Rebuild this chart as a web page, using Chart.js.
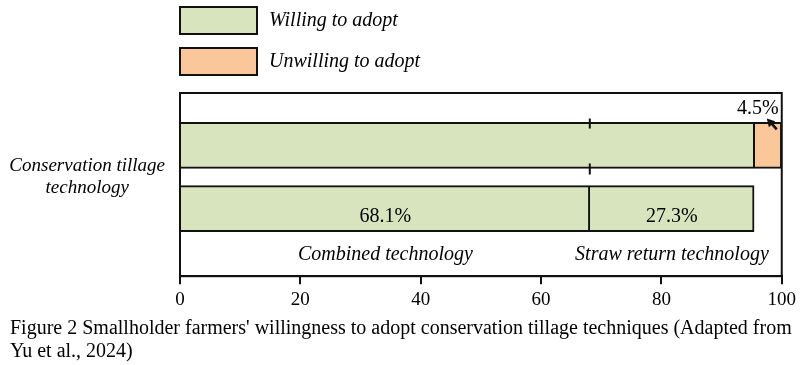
<!DOCTYPE html>
<html>
<head>
<meta charset="utf-8">
<script src="https://cdn.jsdelivr.net/npm/chart.js@4.4.1/dist/chart.umd.min.js"></script>
<style>
  html, body { margin: 0; padding: 0; background: #ffffff; }
  #wrap { width: 800px; height: 365px; }
</style>
</head>
<body>
<div id="wrap"><canvas id="c" width="800" height="365"></canvas></div>
<script>
// ---------- data ----------
const groupLabel = ['Conservation tillage', 'technology'];
const adoptionLabels = ['Willing to adopt', 'Unwilling to adopt'];
const adoptionValues = [95.5, 4.5];
const techLabels = ['Combined technology', 'Straw return technology'];
const techValues = [68.1, 27.3];
const xTickValues = [0, 20, 40, 60, 80, 100];
const titleLines = [
  "Figure 2 Smallholder farmers' willingness to adopt conservation tillage techniques (Adapted from",
  "Yu et al., 2024)"
];

// ---------- styles ----------
const FONT = '"Liberation Serif", "Times New Roman", serif';
const GREEN = '#d7e4bd';
const ORANGE = '#f9c79a';
const INK = '#111111';

const datasets = [
  { label: adoptionLabels[0], data: [{ x: adoptionValues[0], y: 0 }], backgroundColor: GREEN, legend: true },
  { label: adoptionLabels[1], data: [{ x: adoptionValues[1], y: 0 }], backgroundColor: ORANGE, legend: true, note: true },
  { label: techLabels[0], data: [{ x: techValues[0], y: 1 }], backgroundColor: GREEN, tech: true },
  { label: techLabels[1], data: [{ x: techValues[1], y: 1 }], backgroundColor: GREEN, tech: true }
].map(d => Object.assign(d, {
  stack: 's', grouped: false, borderColor: INK, borderWidth: 2, barThickness: 46
}));

// custom legend, stacked vertically above the plot
const legendPlugin = {
  id: 'vlegend',
  afterDraw(chart) {
    const ctx = chart.ctx;
    ctx.save();
    let y = 7;
    chart.data.datasets.filter(d => d.legend).forEach(d => {
      ctx.fillStyle = d.backgroundColor;
      ctx.fillRect(180, y, 77, 27);
      ctx.lineWidth = 2;
      ctx.strokeStyle = INK;
      ctx.strokeRect(180, y, 77, 27);
      ctx.fillStyle = '#000';
      ctx.font = 'italic 20px ' + FONT;
      ctx.textAlign = 'left';
      ctx.textBaseline = 'middle';
      ctx.fillText(d.label, 269, y + 14);
      y += 41;
    });
    ctx.restore();
  }
};

// frame, split marks, value labels and annotations
const annotPlugin = {
  id: 'annot',
  afterDatasetsDraw(chart) {
    const ctx = chart.ctx;
    const a = chart.chartArea;
    ctx.save();
    ctx.strokeStyle = INK;
    ctx.lineWidth = 2;
    ctx.strokeRect(a.left, a.top, a.right - a.left, a.bottom - a.top);

    const ds = chart.data.datasets;
    const topBar = chart.getDatasetMeta(0).data[0].getProps(['x', 'y', 'base', 'height'], true);
    // marks on the top bar at the split of the technology bar
    const firstTech = ds.findIndex(d => d.tech);
    const split = chart.getDatasetMeta(firstTech).data[0].getProps(['x'], true).x;
    const tTop = topBar.y - topBar.height / 2;
    const tBot = topBar.y + topBar.height / 2;
    ctx.beginPath();
    ctx.moveTo(split, tTop - 4); ctx.lineTo(split, tTop + 6);
    ctx.moveTo(split, tBot - 5); ctx.lineTo(split, tBot + 6);
    ctx.stroke();

    ctx.fillStyle = '#000';
    ctx.textAlign = 'center';
    ctx.textBaseline = 'middle';
    ds.forEach((d, i) => {
      if (!d.tech) return;
      const el = chart.getDatasetMeta(i).data[0].getProps(['x', 'y', 'base', 'height'], true);
      const cx = (el.x + el.base) / 2;
      ctx.font = '20px ' + FONT;
      ctx.fillText(d.data[0].x.toFixed(1) + '%', cx, el.y + 8);
      ctx.font = 'italic 20px ' + FONT;
      ctx.fillText(d.label, cx, el.y + el.height / 2 + 23);
    });

    // note for the small segment
    ds.forEach((d, i) => {
      if (!d.note) return;
      const el = chart.getDatasetMeta(i).data[0].getProps(['x', 'y', 'base', 'height'], true);
      const top = el.y - el.height / 2;
      ctx.font = '20px ' + FONT;
      ctx.textAlign = 'right';
      ctx.fillStyle = '#000';
      ctx.fillText(d.data[0].x.toFixed(1) + '%', el.x - 3, top - 14);
      const x1 = el.x - 5, y1 = top + 7, x2 = el.x - 15, y2 = top - 4;
      ctx.lineWidth = 2.5;
      ctx.beginPath();
      ctx.moveTo(x1, y1); ctx.lineTo(x2 + 3, y2 + 3);
      ctx.stroke();
      const ang = Math.atan2(y2 - y1, x2 - x1);
      ctx.beginPath();
      ctx.moveTo(x2, y2);
      ctx.lineTo(x2 - 9 * Math.cos(ang - 0.5), y2 - 9 * Math.sin(ang - 0.5));
      ctx.lineTo(x2 - 9 * Math.cos(ang + 0.5), y2 - 9 * Math.sin(ang + 0.5));
      ctx.closePath();
      ctx.fillStyle = INK;
      ctx.fill();
    });
    ctx.restore();
  }
};

new Chart(document.getElementById('c'), {
  type: 'bar',
  data: { datasets },
  plugins: [legendPlugin, annotPlugin],
  options: {
    responsive: false,
    animation: false,
    indexAxis: 'y',
    layout: { padding: { top: 93, left: 10, right: 4, bottom: 0 } },
    plugins: {
      legend: { display: false },
      tooltip: { enabled: false },
      title: {
        display: true,
        position: 'bottom',
        align: 'start',
        text: titleLines,
        color: '#000',
        font: { family: FONT, size: 20, weight: 'normal', lineHeight: 1.15 },
        padding: { top: 2, bottom: 2 }
      }
    },
    scales: {
      x: {
        type: 'linear', min: 0, max: 100, stacked: true,
        afterBuildTicks: s => { s.ticks = xTickValues.map(v => ({ value: v })); },
        ticks: { color: '#000', font: { family: FONT, size: 19 }, padding: 4, maxRotation: 0, autoSkip: false },
        grid: { drawOnChartArea: false, drawTicks: true, tickLength: 8, color: INK, lineWidth: 2 },
        border: { display: true, color: INK, width: 2 }
      },
      y: {
        type: 'linear', reverse: true, min: -0.83, max: 2.07, offset: false,
        afterBuildTicks: s => { s.ticks = [{ value: 0.5 }]; },
        afterFit: s => { s.width = 170; },
        ticks: {
          callback: () => groupLabel,
          crossAlign: 'center', padding: 15, autoSkip: false,
          color: '#000', font: { family: FONT, size: 19, style: 'italic', lineHeight: 1.2 }
        },
        grid: { display: false, drawTicks: false, offset: false },
        border: { display: false }
      }
    }
  }
});
</script>
</body>
</html>
